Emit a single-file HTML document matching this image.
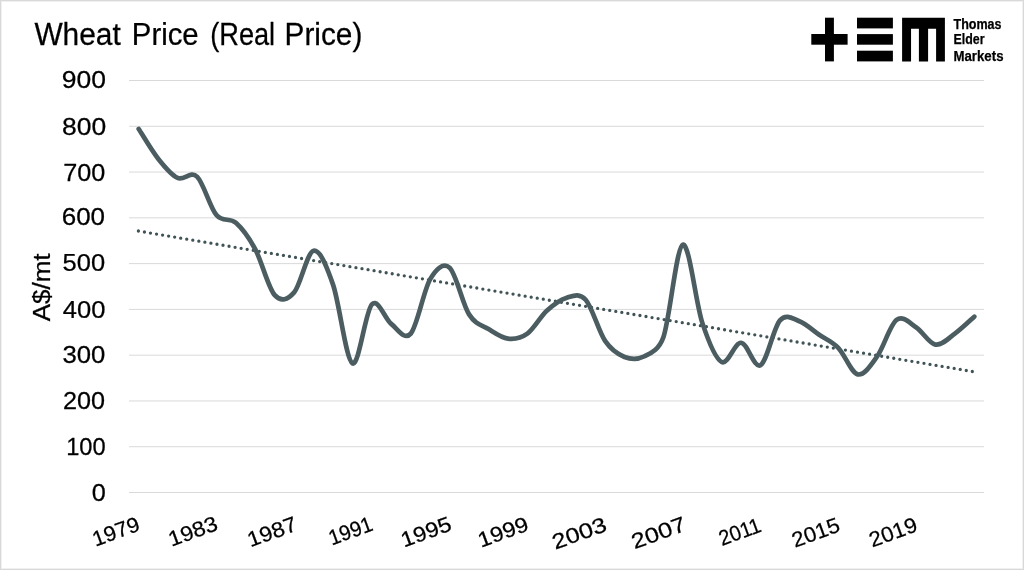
<!DOCTYPE html>
<html><head><meta charset="utf-8"><style>
html,body{margin:0;padding:0;background:#fff;}
body{width:1024px;height:570px;overflow:hidden;position:relative;}
svg{position:absolute;left:0;top:0;will-change:transform;}
text{font-family:"Liberation Sans",sans-serif;fill:#000;stroke:#000;stroke-width:0.25px;}
</style></head><body>
<svg width="1024" height="570" viewBox="0 0 1024 570">
<rect x="0" y="0" width="1024" height="570" fill="#fff"/>
<rect x="0.5" y="0.5" width="1023" height="569" fill="none" stroke="#d9d9d9" stroke-width="1"/>
<rect x="1.5" y="1.5" width="1021" height="567" fill="none" stroke="#f0f0f0" stroke-width="1"/>
<g fill="#d9d9d9"><rect x="129" y="492.0" width="855" height="1"/><rect x="129" y="446.22" width="855" height="1"/><rect x="129" y="400.44" width="855" height="1"/><rect x="129" y="354.67" width="855" height="1"/><rect x="129" y="308.89" width="855" height="1"/><rect x="129" y="263.11" width="855" height="1"/><rect x="129" y="217.33" width="855" height="1"/><rect x="129" y="171.56" width="855" height="1"/><rect x="129" y="125.78" width="855" height="1"/><rect x="129" y="80.0" width="855" height="1"/></g>
<g font-size="31.2"><text transform="translate(34.40,45) scale(0.9581,1)">Wheat</text><text transform="translate(131.80,45) scale(0.9414,1)">Price</text><text transform="translate(210.20,45) scale(0.8719,1)">(Real</text><text transform="translate(284.60,45) scale(0.9542,1)">Price)</text></g>
<g font-size="24.3" text-anchor="end"><text transform="translate(105.72,500.94) scale(1.0403,1)">0</text><text transform="translate(105.72,455.48) scale(0.9753,1)">100</text><text transform="translate(105.08,408.58) scale(1.0379,1)">200</text><text transform="translate(105.40,363.13) scale(1.0584,1)">300</text><text transform="translate(105.40,317.51) scale(1.0507,1)">400</text><text transform="translate(105.08,271.09) scale(1.0489,1)">500</text><text transform="translate(105.08,225.31) scale(1.0705,1)">600</text><text transform="translate(105.40,180.50) scale(1.0384,1)">700</text><text transform="translate(106.20,134.56) scale(1.0900,1)">800</text><text transform="translate(106.04,88.14) scale(1.0907,1)">900</text></g>
<text transform="translate(49.7,287.4) rotate(-90) scale(1.068,1)" text-anchor="middle" font-size="24.3">A$/mt</text>
<g font-size="21.3" text-anchor="end"><text transform="translate(141.24,530.01) rotate(-20) scale(1.0295,1)" x="0" y="0">1979</text><text transform="translate(219.24,529.38) rotate(-20) scale(1.0727,1)" x="0" y="0">1983</text><text transform="translate(298.37,529.94) rotate(-20) scale(1.0733,1)" x="0" y="0">1987</text><text transform="translate(374.28,529.94) rotate(-20) scale(0.9573,1)" x="0" y="0">1991</text><text transform="translate(452.99,529.80) rotate(-20) scale(1.1006,1)" x="0" y="0">1995</text><text transform="translate(530.01,529.94) rotate(-20) scale(1.1017,1)" x="0" y="0">1999</text><text transform="translate(608.16,530.43) rotate(-20) scale(1.1862,1)" x="0" y="0">2003</text><text transform="translate(687.43,530.01) rotate(-20) scale(1.1868,1)" x="0" y="0">2007</text><text transform="translate(762.63,531.13) rotate(-20) scale(0.9460,1)" x="0" y="0">2011</text><text transform="translate(841.48,530.78) rotate(-20) scale(1.0425,1)" x="0" y="0">2015</text><text transform="translate(918.93,530.43) rotate(-20) scale(1.0470,1)" x="0" y="0">2019</text></g>
<line x1="138.4" y1="231.0" x2="973.3" y2="371.67" stroke="#405356" stroke-width="3.3" stroke-linecap="round" stroke-dasharray="0 6.128"/>
<path d="M138.72,128.98 C141.95,133.94 151.67,150.57 158.15,158.74 C164.62,166.90 171.10,174.99 177.58,177.96 C184.06,180.94 190.53,170.41 197.01,176.59 C203.49,182.77 209.97,207.34 216.44,215.04 C222.92,222.75 229.40,217.10 235.88,222.83 C242.35,228.55 248.83,237.32 255.31,249.38 C261.78,261.43 268.26,287.98 274.74,295.16 C281.22,302.33 287.71,299.79 294.17,292.41 C300.65,285.01 307.12,252.05 313.60,250.75 C320.08,249.45 326.66,266.17 333.03,284.63 C339.51,303.40 345.99,360.08 352.47,363.36 C358.94,366.65 365.42,310.87 371.90,304.31 C378.38,297.75 384.85,319.11 391.33,324.00 C397.81,328.88 404.28,341.09 410.76,333.61 C417.24,326.13 423.72,290.12 430.19,279.13 C435.92,269.42 443.15,261.81 449.62,267.69 C456.10,273.56 462.58,304.16 469.06,314.38 C475.53,324.61 482.01,324.99 488.49,329.03 C494.97,333.07 501.44,337.88 507.92,338.64 C514.40,339.41 520.88,338.26 527.35,333.61 C533.83,328.95 540.31,316.67 546.78,310.72 C553.26,304.77 559.74,299.73 566.22,297.90 C572.69,296.07 579.17,292.56 585.65,299.73 C592.12,306.91 598.60,331.40 605.08,340.93 C611.56,350.47 618.03,354.36 624.51,356.96 C630.99,359.55 637.47,359.78 643.94,356.50 C650.42,353.22 658.88,350.18 663.38,337.27 C669.85,318.65 676.33,247.24 682.81,244.80 C689.28,242.36 695.76,303.09 702.24,322.62 C708.72,342.15 715.19,358.63 721.67,361.99 C728.15,365.35 734.62,342.23 741.10,342.76 C747.58,343.30 754.06,368.93 760.53,365.20 C767.01,361.46 773.49,327.66 779.97,320.33 C786.41,313.05 792.92,318.88 799.40,321.25 C805.88,323.61 812.35,330.10 818.83,334.52 C825.31,338.95 831.78,341.16 838.26,347.80 C844.74,354.44 851.22,372.90 857.69,374.35 C864.17,375.80 870.65,365.58 877.12,356.50 C883.60,347.42 890.08,324.76 896.56,319.88 C903.03,314.99 909.51,323.08 915.99,327.20 C922.47,331.32 928.94,343.53 935.42,344.60 C941.90,345.66 948.38,338.26 954.85,333.61 C961.33,328.95 971.05,319.49 974.28,316.67" fill="none" stroke="#4b5d61" stroke-width="4.7" stroke-linecap="round" stroke-linejoin="round"/>
<g fill="#000">
<rect x="825" y="17.7" width="8.9" height="43.7"/>
<rect x="811.3" y="34" width="36.3" height="10.7"/>
<rect x="857" y="17.7" width="35.9" height="10.7"/>
<rect x="857" y="34.1" width="35.9" height="10.6"/>
<rect x="857" y="50.7" width="35.9" height="10.7"/>
<path d="M902.1,17.7 H944.9 V61.4 H936.1 V28.7 H928.1 V61.4 H918.9 V28.7 H911.05 V61.4 H902.1 Z"/>
</g>
<g font-size="14.4" font-weight="bold" style="stroke:none">
<text x="953.5" y="28.7" textLength="48" lengthAdjust="spacingAndGlyphs">Thomas</text>
<text x="953.5" y="44.4" textLength="31" lengthAdjust="spacingAndGlyphs">Elder</text>
<text x="953.5" y="60.6" textLength="50" lengthAdjust="spacingAndGlyphs">Markets</text>
</g>
</svg>
</body></html>
